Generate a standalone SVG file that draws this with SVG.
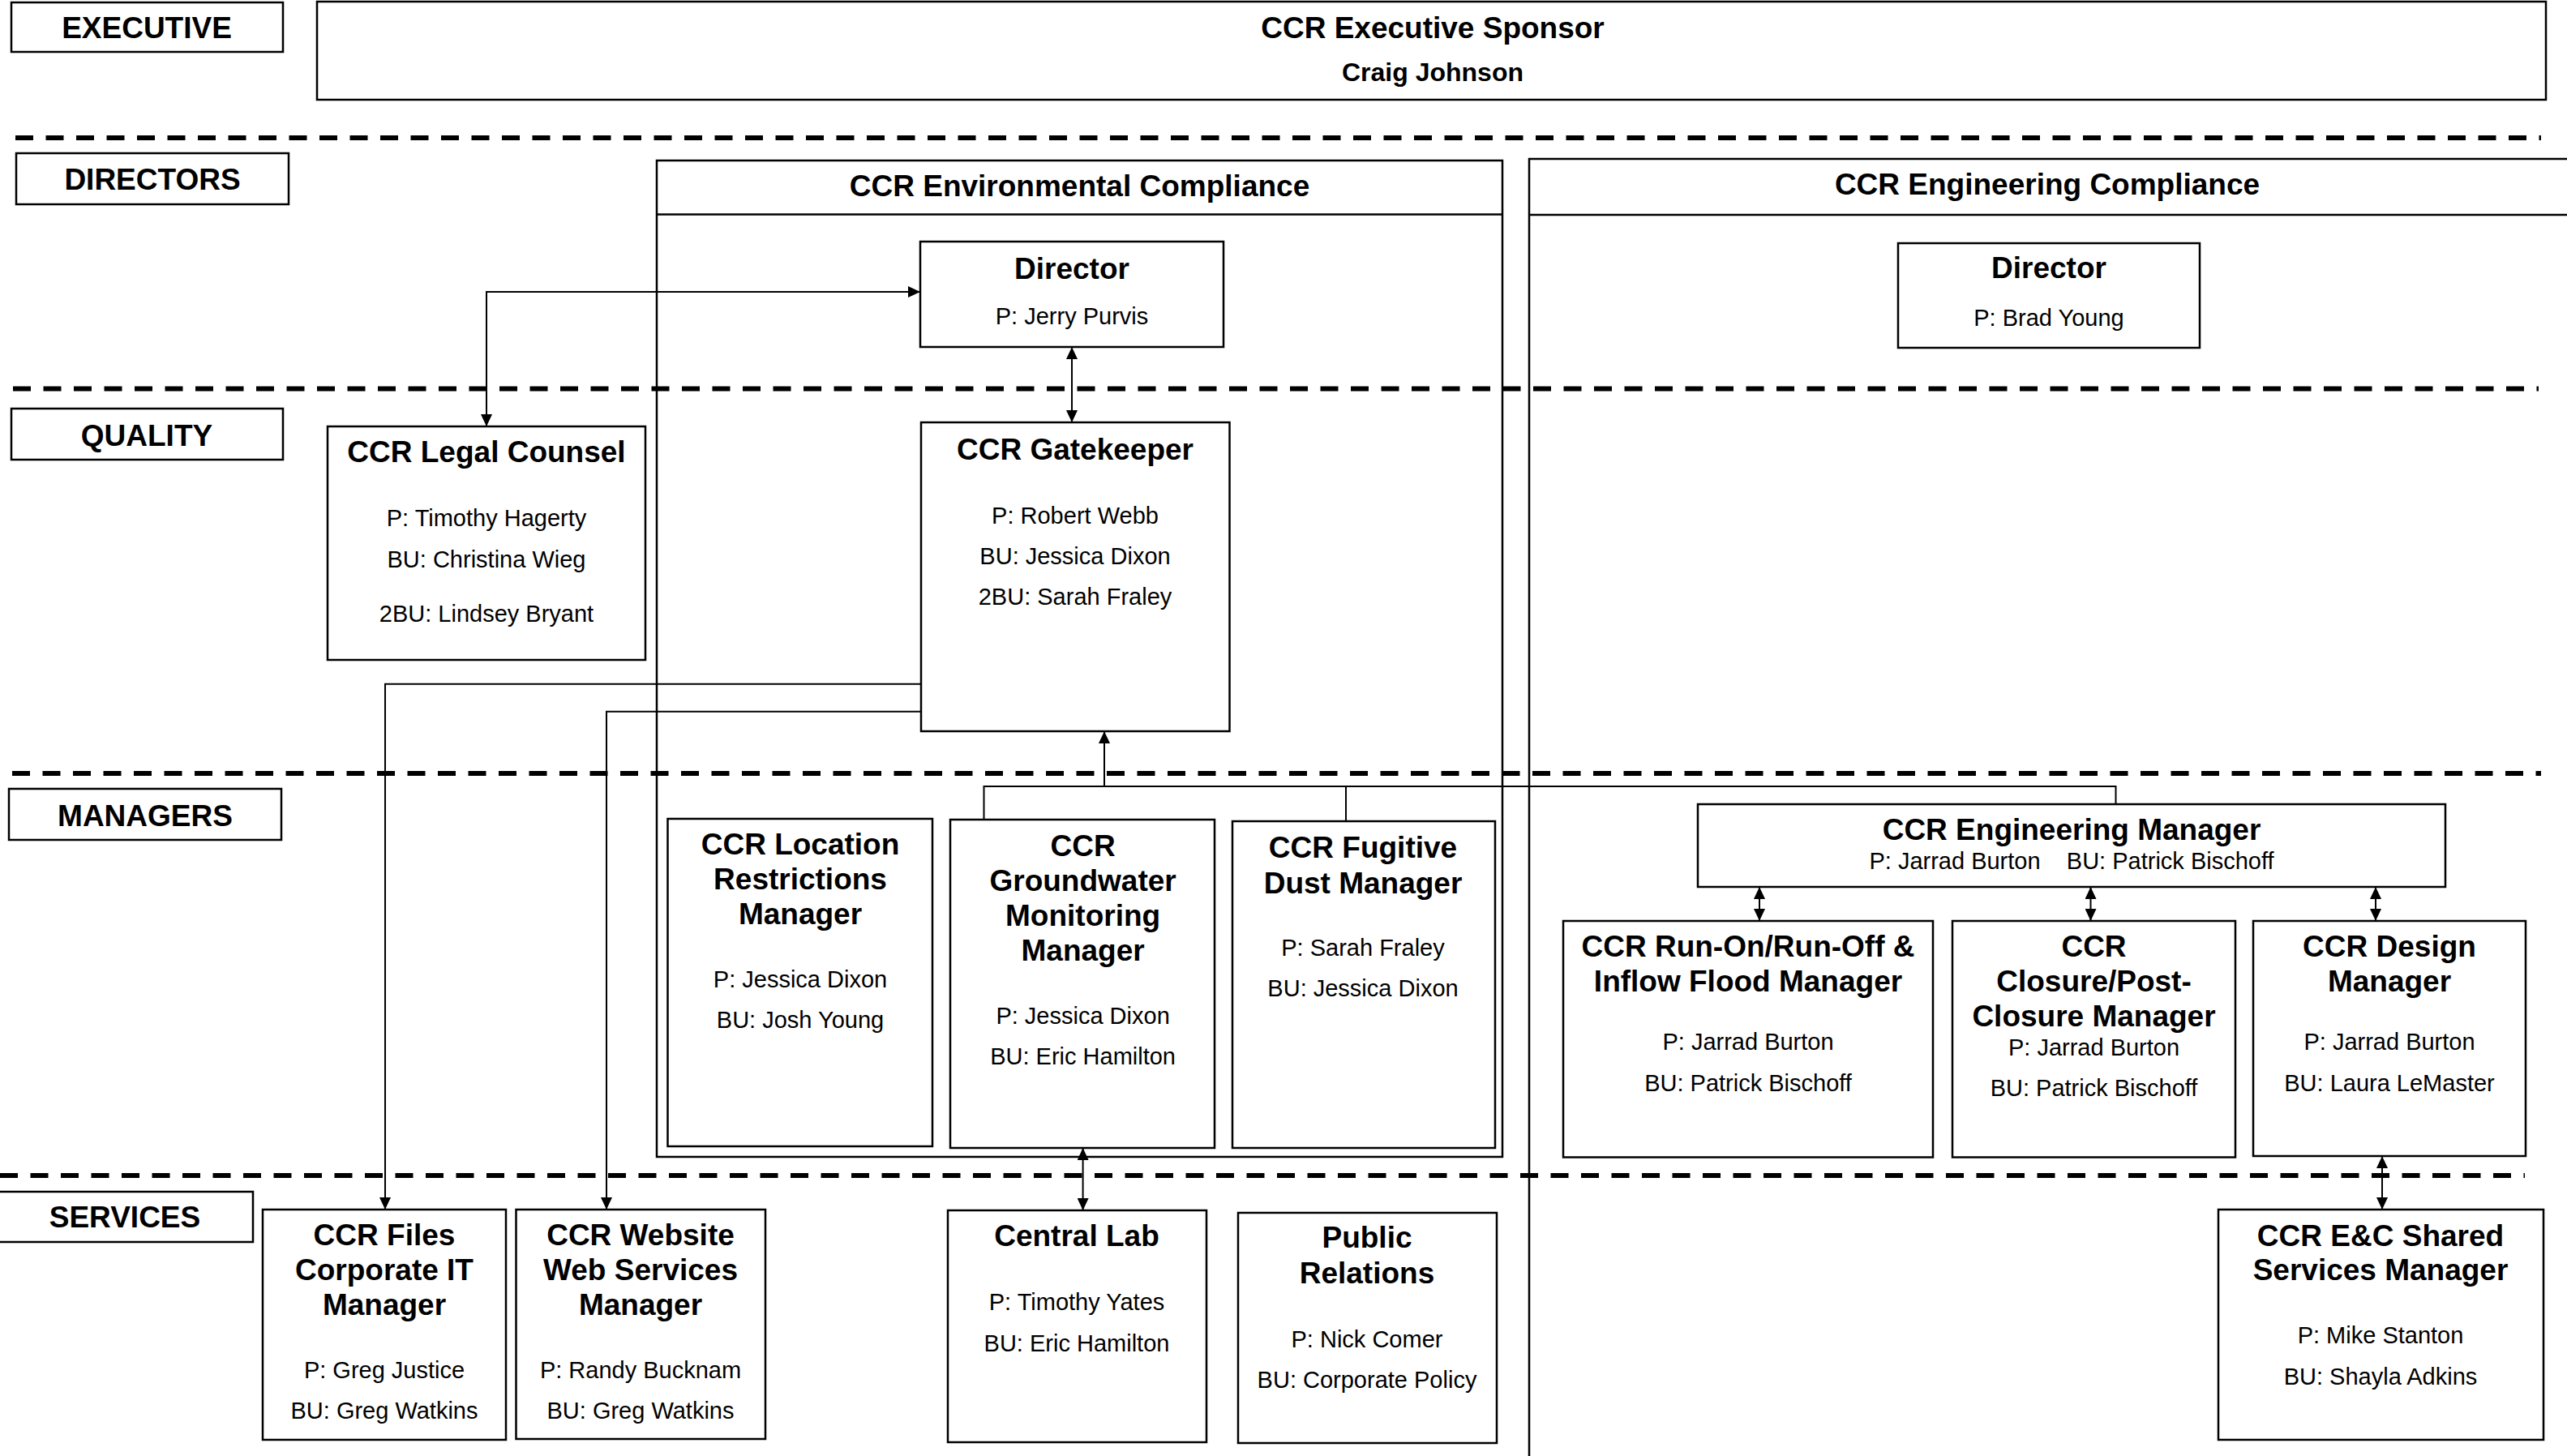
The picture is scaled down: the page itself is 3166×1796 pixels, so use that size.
<svg xmlns="http://www.w3.org/2000/svg" width="3166" height="1796" viewBox="0 0 3166 1796">
<style>
.bg{fill:#fff}
.box{fill:#fff;stroke:#000;stroke-width:2.5}
.cont{fill:none;stroke:#000;stroke-width:2.5}
.dash{fill:none;stroke:#000;stroke-width:6;stroke-dasharray:22 15.5}
.conn{fill:none;stroke:#000;stroke-width:2}
.t{font-family:"Liberation Sans",Arial,Helvetica,sans-serif;font-weight:bold;font-size:37px;text-anchor:middle;fill:#000}
.s{font-family:"Liberation Sans",Arial,Helvetica,sans-serif;font-weight:bold;font-size:32px;text-anchor:middle;fill:#000}
.n{font-family:"Liberation Sans",Arial,Helvetica,sans-serif;font-size:29px;text-anchor:middle;fill:#000}
</style>
<defs>
<marker id="arr" viewBox="0 0 15 14" refX="15" refY="7" markerWidth="15" markerHeight="14" markerUnits="userSpaceOnUse" orient="auto-start-reverse"><path d="M0,0 L15,7 L0,14 z" fill="#000"/></marker>
</defs>
<rect class="bg" x="0" y="0" width="3166" height="1796"/>

<g id="tier-lines">
<line class="dash" x1="19" y1="170" x2="3134" y2="170"/>
<line class="dash" x1="16" y1="479.5" x2="3131" y2="479.5"/>
<line class="dash" x1="15" y1="954" x2="3134" y2="954"/>
<line class="dash" x1="0" y1="1450" x2="3114" y2="1450"/>
</g>

<g id="tier-labels">
<g id="lbl-executive"><rect class="box" x="14" y="3" width="335" height="61"/><text class="t" x="181" y="47">EXECUTIVE</text></g>
<g id="lbl-directors"><rect class="box" x="20" y="189" width="336" height="63"/><text class="t" x="188" y="234">DIRECTORS</text></g>
<g id="lbl-quality"><rect class="box" x="14" y="504" width="335" height="63"/><text class="t" x="181" y="550">QUALITY</text></g>
<g id="lbl-managers"><rect class="box" x="11" y="973" width="336" height="63"/><text class="t" x="179" y="1019">MANAGERS</text></g>
<g id="lbl-services"><rect class="box" x="-2" y="1470" width="314" height="62"/><text class="t" x="154" y="1514">SERVICES</text></g>
</g>

<g id="env-compliance">
<rect class="cont" x="810" y="198" width="1043" height="1229"/>
<line class="cont" x1="810" y1="264.5" x2="1853" y2="264.5"/>
<text class="t" x="1331.5" y="242">CCR Environmental Compliance</text>
</g>

<g id="eng-compliance">
<rect class="cont" x="1886" y="196" width="1300" height="1620"/>
<line class="cont" x1="1886" y1="265" x2="3170" y2="265"/>
<text class="t" x="2525" y="240">CCR Engineering Compliance</text>
</g>

<g id="connectors">
<path class="conn" d="M600,526 V360 H1135" marker-start="url(#arr)" marker-end="url(#arr)"/>
<path class="conn" d="M1322,428 V521" marker-start="url(#arr)" marker-end="url(#arr)"/>
<path class="conn" d="M1362,970 V902" marker-end="url(#arr)"/>
<path class="conn" d="M1213.5,1011 V970 H2609.5 V992"/>
<path class="conn" d="M1660,970 V1013"/>
<path class="conn" d="M1136,843.7 H475 V1492" marker-end="url(#arr)"/>
<path class="conn" d="M1136,877.7 H748 V1492" marker-end="url(#arr)"/>
<path class="conn" d="M1335.6,1416 V1493" marker-start="url(#arr)" marker-end="url(#arr)"/>
<path class="conn" d="M2170,1094 V1136" marker-start="url(#arr)" marker-end="url(#arr)"/>
<path class="conn" d="M2578.5,1094 V1136" marker-start="url(#arr)" marker-end="url(#arr)"/>
<path class="conn" d="M2930,1094 V1136" marker-start="url(#arr)" marker-end="url(#arr)"/>
<path class="conn" d="M2938,1426 V1492" marker-start="url(#arr)" marker-end="url(#arr)"/>
</g>

<g id="exec-sponsor">
<rect class="box" x="391" y="2" width="2749" height="121"/>
<text class="t" x="1767" y="47">CCR Executive Sponsor</text>
<text class="s" x="1767" y="100">Craig Johnson</text>
</g>

<g id="env-director">
<rect class="box" x="1135" y="298" width="374" height="130"/>
<text class="t" x="1322" y="344">Director</text>
<text class="n" x="1322" y="400">P: Jerry Purvis</text>
</g>

<g id="eng-director">
<rect class="box" x="2341" y="300" width="372" height="129"/>
<text class="t" x="2527" y="343">Director</text>
<text class="n" x="2527" y="402">P: Brad Young</text>
</g>

<g id="legal-counsel">
<rect class="box" x="404" y="526" width="392" height="288"/>
<text class="t" x="600" y="570">CCR Legal Counsel</text>
<text class="n" x="600" y="648.5">P: Timothy Hagerty</text>
<text class="n" x="600" y="700">BU: Christina Wieg</text>
<text class="n" x="600" y="767">2BU: Lindsey Bryant</text>
</g>

<g id="gatekeeper">
<rect class="box" x="1136" y="521" width="380.5" height="381"/>
<text class="t" x="1326" y="567">CCR Gatekeeper</text>
<text class="n" x="1326" y="645.5">P: Robert Webb</text>
<text class="n" x="1326" y="696">BU: Jessica Dixon</text>
<text class="n" x="1326" y="746">2BU: Sarah Fraley</text>
</g>

<g id="location-restrictions">
<rect class="box" x="823.5" y="1010" width="326.5" height="404"/>
<text class="t" x="987" y="1054">CCR Location</text>
<text class="t" x="987" y="1097">Restrictions</text>
<text class="t" x="987" y="1140">Manager</text>
<text class="n" x="987" y="1218">P: Jessica Dixon</text>
<text class="n" x="987" y="1268">BU: Josh Young</text>
</g>

<g id="groundwater">
<rect class="box" x="1172" y="1011" width="326" height="405"/>
<text class="t" x="1335.6" y="1056">CCR</text>
<text class="t" x="1335.6" y="1099">Groundwater</text>
<text class="t" x="1335.6" y="1142">Monitoring</text>
<text class="t" x="1335.6" y="1185">Manager</text>
<text class="n" x="1335.6" y="1263">P: Jessica Dixon</text>
<text class="n" x="1335.6" y="1313">BU: Eric Hamilton</text>
</g>

<g id="fugitive-dust">
<rect class="box" x="1520" y="1013" width="324" height="403"/>
<text class="t" x="1681" y="1058">CCR Fugitive</text>
<text class="t" x="1681" y="1101.5">Dust Manager</text>
<text class="n" x="1681" y="1179">P: Sarah Fraley</text>
<text class="n" x="1681" y="1229">BU: Jessica Dixon</text>
</g>

<g id="eng-manager">
<rect class="box" x="2094" y="992" width="922" height="102"/>
<text class="t" x="2555" y="1036">CCR Engineering Manager</text>
<text class="n" x="2555" y="1072" xml:space="preserve">P: Jarrad Burton    BU: Patrick Bischoff</text>
</g>

<g id="runon-runoff">
<rect class="box" x="1928" y="1136" width="456" height="291.5"/>
<text class="t" x="2156" y="1180">CCR Run-On/Run-Off &amp;</text>
<text class="t" x="2156" y="1223">Inflow Flood Manager</text>
<text class="n" x="2156" y="1295">P: Jarrad Burton</text>
<text class="n" x="2156" y="1346">BU: Patrick Bischoff</text>
</g>

<g id="closure">
<rect class="box" x="2408" y="1136" width="349" height="291.5"/>
<text class="t" x="2582.5" y="1180">CCR</text>
<text class="t" x="2582.5" y="1223">Closure/Post-</text>
<text class="t" x="2582.5" y="1266">Closure Manager</text>
<text class="n" x="2582.5" y="1302">P: Jarrad Burton</text>
<text class="n" x="2582.5" y="1352">BU: Patrick Bischoff</text>
</g>

<g id="design">
<rect class="box" x="2779" y="1136" width="336" height="290"/>
<text class="t" x="2947" y="1180">CCR Design</text>
<text class="t" x="2947" y="1223">Manager</text>
<text class="n" x="2947" y="1295">P: Jarrad Burton</text>
<text class="n" x="2947" y="1346">BU: Laura LeMaster</text>
</g>

<g id="files-it">
<rect class="box" x="324" y="1492" width="300" height="284"/>
<text class="t" x="474" y="1536">CCR Files</text>
<text class="t" x="474" y="1579">Corporate IT</text>
<text class="t" x="474" y="1622">Manager</text>
<text class="n" x="474" y="1700">P: Greg Justice</text>
<text class="n" x="474" y="1750">BU: Greg Watkins</text>
</g>

<g id="website">
<rect class="box" x="636.5" y="1492" width="307.5" height="283"/>
<text class="t" x="790" y="1536">CCR Website</text>
<text class="t" x="790" y="1579">Web Services</text>
<text class="t" x="790" y="1622">Manager</text>
<text class="n" x="790" y="1700">P: Randy Bucknam</text>
<text class="n" x="790" y="1750">BU: Greg Watkins</text>
</g>

<g id="central-lab">
<rect class="box" x="1169" y="1493" width="319" height="286"/>
<text class="t" x="1328" y="1537">Central Lab</text>
<text class="n" x="1328" y="1616">P: Timothy Yates</text>
<text class="n" x="1328" y="1667">BU: Eric Hamilton</text>
</g>

<g id="public-relations">
<rect class="box" x="1527" y="1496" width="319" height="284"/>
<text class="t" x="1686" y="1539">Public</text>
<text class="t" x="1686" y="1583">Relations</text>
<text class="n" x="1686" y="1662">P: Nick Comer</text>
<text class="n" x="1686" y="1712">BU: Corporate Policy</text>
</g>

<g id="ec-shared">
<rect class="box" x="2736" y="1492" width="401" height="284"/>
<text class="t" x="2936" y="1537">CCR E&amp;C Shared</text>
<text class="t" x="2936" y="1579">Services Manager</text>
<text class="n" x="2936" y="1657">P: Mike Stanton</text>
<text class="n" x="2936" y="1708">BU: Shayla Adkins</text>
</g>
</svg>
